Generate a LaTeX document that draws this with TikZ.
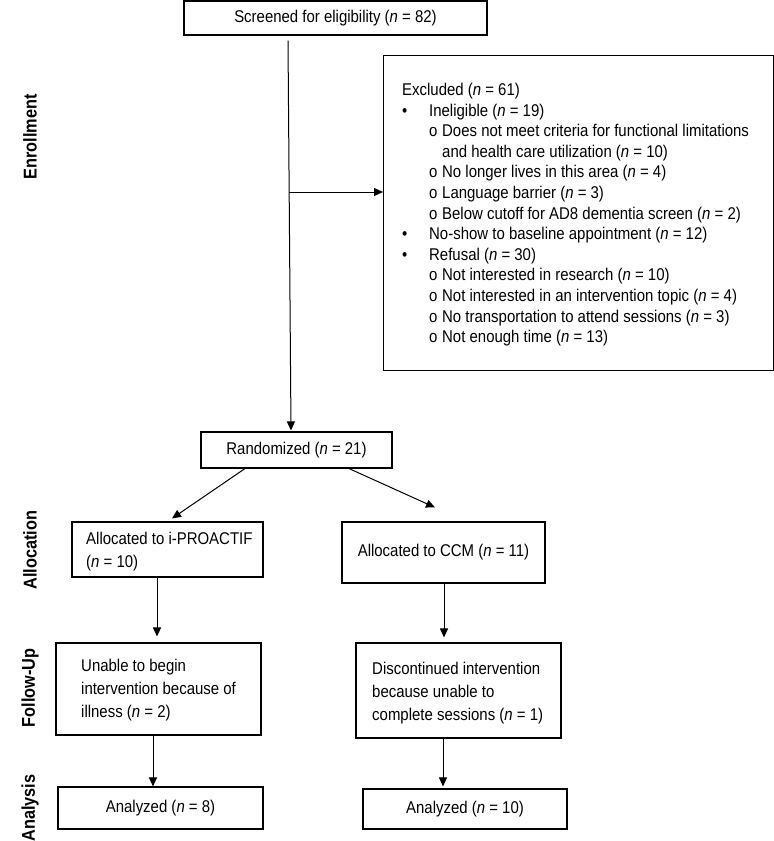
\documentclass[tikz,border=0pt]{standalone}
\usepackage{fontspec}
\setmainfont[FakeStretch=0.88]{Liberation Sans}
\usetikzlibrary{arrows.meta}
\newcommand{\nn}{\textit{n}}
\tikzset{
  box/.style={draw=black, line width=1.1pt, inner sep=0pt, fill=white},
  arr/.style={draw=black, line width=1pt, -{Triangle[length=9pt,width=8pt]}},
  lbl/.style={font=\fontsize{18.5}{20}\selectfont\bfseries, rotate=90},
  txt/.style={font=\fontsize{17}{20.6}\selectfont, align=left, inner sep=0pt},
  txtb/.style={font=\fontsize{17}{23}\selectfont, align=left, inner sep=0pt},
  one/.style={font=\fontsize{17}{20}\selectfont}
}
\begin{document}
\begin{tikzpicture}[x=1pt,y=-1pt]
\useasboundingbox (0,0) rectangle (774,841);
% boxes
\node[box, one, minimum width=303pt, minimum height=34pt] (screen) at (335.5,18) {Screened for eligibility (\nn{} = 82)};
\node[box, minimum width=390pt, minimum height=315pt, anchor=north west] (excl) at (383,55) {};
\node[txt, anchor=north west] (excltxt) at (402,83) {%
Excluded (\nn{} = 61)\\
\makebox[27pt][l]{•}Ineligible (\nn{} = 19)\\
\hspace*{27pt}\makebox[13pt][l]{o}Does not meet criteria for functional limitations\\
\hspace*{40pt}and health care utilization (\nn{} = 10)\\
\hspace*{27pt}\makebox[13pt][l]{o}No longer lives in this area (\nn{} = 4)\\
\hspace*{27pt}\makebox[13pt][l]{o}Language barrier (\nn{} = 3)\\
\hspace*{27pt}\makebox[13pt][l]{o}Below cutoff for AD8 dementia screen (\nn{} = 2)\\
\makebox[27pt][l]{•}No-show to baseline appointment (\nn{} = 12)\\
\makebox[27pt][l]{•}Refusal (\nn{} = 30)\\
\hspace*{27pt}\makebox[13pt][l]{o}Not interested in research (\nn{} = 10)\\
\hspace*{27pt}\makebox[13pt][l]{o}Not interested in an intervention topic (\nn{} = 4)\\
\hspace*{27pt}\makebox[13pt][l]{o}No transportation to attend sessions (\nn{} = 3)\\
\hspace*{27pt}\makebox[13pt][l]{o}Not enough time (\nn{} = 13)};
\node[box, one, minimum width=191pt, minimum height=36pt] (rand) at (296.5,450) {Randomized (\nn{} = 21)};
\node[box, minimum width=191pt, minimum height=55pt] (alloc1) at (167.5,549.5) {};
\node[txtb, anchor=west] (alloc1txt) at (86,552) {Allocated to i-PROACTIF\\(\nn{} = 10)};
\node[box, one, minimum width=203pt, minimum height=61pt] (alloc2) at (443.5,552.5) {Allocated to CCM (\nn{} = 11)};
\node[box, minimum width=205pt, minimum height=92pt] (unable) at (158.5,689) {};
\node[txtb, anchor=west] (unabletxt) at (81,690) {Unable to begin\\intervention because of\\illness (\nn{} = 2)};
\node[box, minimum width=205pt, minimum height=95pt] (disc) at (458.5,690.5) {};
\node[txtb, anchor=west] (disctxt) at (372,693) {Discontinued intervention\\because unable to\\complete sessions (\nn{} = 1)};
\node[box, one, minimum width=205pt, minimum height=42pt] (an1) at (160.5,808) {Analyzed (\nn{} = 8)};
\node[box, one, minimum width=204pt, minimum height=40pt] (an2) at (465,809) {Analyzed (\nn{} = 10)};
% side labels
\node[lbl] (l1) at (30,137) {Enrollment};
\node[lbl] (l2) at (30,550) {Allocation};
\node[lbl] (l3) at (30,688) {Follow-Up};
\node[lbl] (l4) at (30,808) {Analysis};
% connectors
\draw[arr] ([xshift=-47.5pt,yshift=-5pt]screen.south) -- ([xshift=-5.5pt,yshift=1pt]rand.north);
\coordinate (br) at (288.5,192);
\draw[arr] (br) -- (br -| excl.west);
\draw[arr] ([xshift=-51.5pt]rand.south) -- ([xshift=4.5pt,yshift=3pt]alloc1.north);
\draw[arr] ([xshift=52.5pt]rand.south) -- ([xshift=-8.5pt,yshift=14pt]alloc2.north);
\draw[arr] (alloc1.south -| 157,0) -- ([yshift=6pt]unable.north -| 157,0);
\draw[arr] (alloc2.south -| 444,0) -- ([yshift=5pt]disc.north -| 444,0);
\draw[arr] (unable.south -| 153,0) -- (an1.north -| 153,0);
\draw[arr] (disc.south -| 443,0) -- ([yshift=2pt]an2.north -| 443,0);
\end{tikzpicture}
\end{document}
